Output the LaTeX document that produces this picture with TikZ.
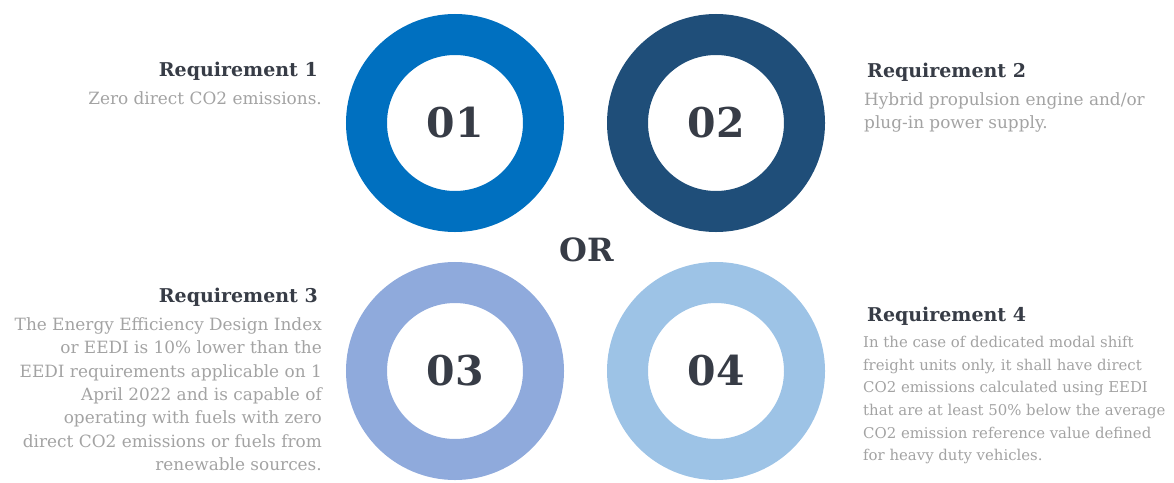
\documentclass[tikz,border=0pt]{standalone}
\usepackage{fontspec}
\setmainfont{DejaVu Serif}
\usetikzlibrary{positioning}
\definecolor{ringone}{RGB}{0,112,192}
\definecolor{ringtwo}{RGB}{31,78,121}
\definecolor{ringthree}{RGB}{143,170,220}
\definecolor{ringfour}{RGB}{157,195,230}
\definecolor{inkdark}{RGB}{55,60,70}
\definecolor{inkgray}{RGB}{163,163,163}
\begin{document}
\begin{tikzpicture}[x=1pt, y=-1pt,
    ring/.style={circle, draw, line width=41pt, minimum size=177pt, inner sep=0pt, text=inkdark, font=\fontsize{41}{41}\selectfont\bfseries},
    head/.style={inner sep=0pt, text=inkdark, font=\fontsize{19}{24}\selectfont\bfseries},
    body/.style={inner sep=0pt, text=inkgray, font=\fontsize{16.9}{23.4}\selectfont},
    smallbody/.style={inner sep=0pt, text=inkgray, font=\fontsize{14.9}{22.6}\selectfont},
]
\useasboundingbox (0,0) rectangle (1174,482);

% Four rings
\node[ring, draw=ringone] (r1) at (455,123) {01};
\node[ring, draw=ringtwo] (r2) at (716,123) {02};
\node[ring, draw=ringthree] (r3) at (455,371) {03};
\node[ring, draw=ringfour] (r4) at (716,371) {04};
\node[text=inkdark, font=\fontsize{32}{32}\selectfont\bfseries] (or) at (587,250) {OR};

% Requirement titles
\node[head, anchor=base east] (h1) at (318,76) {Requirement 1};
\node[head, anchor=base west] (h2) at (867,77) {Requirement 2};
\node[head, anchor=base east] (h3) at (318,302) {Requirement 3};
\node[head, anchor=base west] (h4) at (867,321) {Requirement 4};

% Requirement texts
\node[body, align=right, below=11pt of h1.south east, anchor=north east, xshift=4pt] (t1) {Zero direct CO2 emissions.};
\node[body, align=left, below=11pt of h2.south west, anchor=north west, xshift=-3pt] (t2) {Hybrid propulsion engine and/or\\plug-in power supply.};
\node[body, align=right, below=11pt of h3.south east, anchor=north east, xshift=4pt] (t3) {The Energy Efficiency Design Index\\or EEDI is 10\% lower than the\\EEDI requirements applicable on 1\\April 2022 and is capable of\\operating with fuels with zero\\direct CO2 emissions or fuels from\\renewable sources.};
\node[smallbody, align=left, below=11pt of h4.south west, anchor=north west, xshift=-4pt] (t4) {In the case of dedicated modal shift\\freight units only, it shall have direct\\CO2 emissions calculated using EEDI\\that are at least 50\% below the average\\CO2 emission reference value defined\\for heavy duty vehicles.};

\end{tikzpicture}
\end{document}
